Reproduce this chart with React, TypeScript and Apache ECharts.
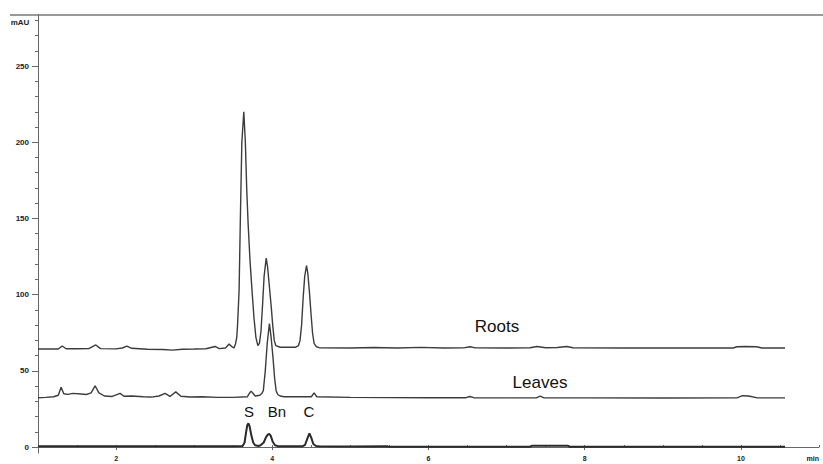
import React, { useEffect, useRef } from "react";
import * as echarts from "echarts";

// Retention time (min) / absorbance (mAU) pairs
const rootsTime = [1.0, 1.26, 1.31, 1.36, 1.5, 1.65, 1.74, 1.8, 2.0, 2.08, 2.137, 2.2, 2.4, 2.6, 2.72, 2.85, 3.0, 3.15, 3.268, 3.32, 3.4, 3.447, 3.49, 3.51, 3.53, 3.545, 3.555, 3.575, 3.59, 3.61, 3.635, 3.655, 3.672, 3.69, 3.715, 3.74, 3.765, 3.79, 3.815, 3.835, 3.855, 3.875, 3.895, 3.922, 3.94, 3.965, 3.988, 4.005, 4.025, 4.045, 4.1, 4.3, 4.335, 4.355, 4.375, 4.395, 4.415, 4.438, 4.455, 4.475, 4.495, 4.515, 4.535, 4.565, 4.6, 5.0, 5.3, 5.6, 5.9, 6.2, 6.45, 6.53, 6.6, 7.0, 7.3, 7.39, 7.5, 7.65, 7.77, 7.85, 8.5, 9.0, 9.5, 9.9, 9.95, 10.05, 10.2, 10.27, 10.565];
const rootsValue = [64.3, 64.3, 66.3, 64.5, 64.5, 64.6, 67, 64.6, 64.4, 65, 66.3, 64.8, 64.2, 64, 63.6, 64.2, 64.3, 64.5, 66, 64.6, 65, 67.6, 65.5, 65, 68, 72, 80, 103, 147, 200, 220, 200, 170, 147, 122, 103, 85, 72, 66.5, 68, 76, 93, 112, 124, 118, 104, 91, 80, 70, 66.5, 65.5, 65.5, 66.5, 70, 80, 98, 112, 119, 114, 102, 88, 75, 68, 65.8, 65.2, 65, 65.3, 65, 65.4, 65, 65.1, 65.8, 65.1, 65, 65.2, 66, 65.2, 65.3, 66, 65.2, 65, 65, 65, 65, 65.8, 66, 65.8, 65, 65];

const leavesTime = [1.0, 1.1, 1.2, 1.26, 1.296, 1.33, 1.38, 1.45, 1.55, 1.62, 1.68, 1.731, 1.78, 1.85, 1.95, 2.051, 2.1, 2.2, 2.35, 2.45, 2.55, 2.627, 2.69, 2.764, 2.83, 2.95, 3.1, 3.3, 3.5, 3.68, 3.71, 3.729, 3.75, 3.78, 3.84, 3.87, 3.885, 3.91, 3.935, 3.963, 3.985, 4.01, 4.03, 4.049, 4.07, 4.1, 4.15, 4.5, 4.535, 4.57, 5.0, 6.0, 6.48, 6.53, 6.58, 7.0, 7.38, 7.43, 7.48, 8.0, 9.0, 9.95, 10.02, 10.1, 10.21, 10.565];
const leavesValue = [32.4, 32.6, 33, 34, 39.2, 35, 34.6, 35.2, 34.8, 34.5, 35.5, 40.2, 35.5, 33.5, 33.2, 35.2, 33.3, 33.5, 33, 32.8, 33.5, 35.2, 33.2, 36.2, 33.3, 32.8, 33, 32.6, 32.6, 33, 35.5, 36.7, 35.5, 33.5, 34, 35.5, 37, 50, 68, 81, 72, 58, 45, 37, 34.5, 33.5, 33, 33, 35.5, 33, 32.6, 32.4, 32.4, 33.2, 32.4, 32.3, 32.3, 33.4, 32.3, 32.3, 32.2, 32.3, 33.7, 33.5, 32.3, 32.3];

const standardTime = [1.0, 2.0, 3.0, 3.5, 3.62, 3.645, 3.665, 3.68, 3.694, 3.71, 3.73, 3.755, 3.78, 3.822, 3.85, 3.89, 3.92, 3.945, 3.963, 3.982, 4.005, 4.035, 4.07, 4.39, 4.42, 4.445, 4.475, 4.5, 4.525, 4.56, 4.6, 5.0, 5.47, 5.49, 7.3, 7.33, 7.78, 7.81, 10.565];
const standardValue = [0.6, 0.6, 0.5, 0.5, 0.7, 3, 10, 14.5, 15.5, 13.5, 8, 3, 1.2, 0.7, 1.2, 3, 6.5, 8.3, 8.6, 7.2, 3.5, 1.2, 0.6, 0.6, 1.5, 5, 9, 6, 2, 0.7, 0.5, 0.4, 0.5, 0.2, 0.2, 0.9, 0.9, 0.2, 0.2];

const xLabelValues = [2, 4, 6, 8, 10, 11];
const xMajorTicks = [2, 4, 6, 8, 10];
const xMinorTicks = [1, 1.5, 2, 2.5, 3, 3.5, 4, 4.5, 5, 5.5, 6, 6.5, 7, 7.5, 8, 8.5, 9, 9.5, 10, 10.5, 11];
const yLabelValues = [0, 50, 100, 150, 200, 250];
const yMinorTicks = [0, 10, 20, 30, 40, 50, 60, 70, 80, 90, 100, 110, 120, 130, 140, 150, 160, 170, 180, 190, 200, 210, 220, 230, 240, 250, 260, 270, 280];

const traceLabels = [
  { text: "Roots", x: 497, y: 326, size: 17 },
  { text: "Leaves", x: 540, y: 382, size: 17 },
  { text: "S", x: 249, y: 411, size: 15 },
  { text: "Bn", x: 277, y: 411, size: 15 },
  { text: "C", x: 309, y: 411, size: 15 },
];

const zip = (xs: number[], ys: number[]) => xs.map((x, i) => [x, ys[i]]);

const FONT = "'Liberation Sans', Arial, sans-serif";
const AXIS = "#666";
const TRACE = "#3c3c3c";

export default function App() {
  const ref = useRef<HTMLDivElement>(null);
  useEffect(() => {
    if (!ref.current) return;
    const chart = echarts.init(ref.current, null, { renderer: "svg" });
    const xMin = 1, xMax = 11, yMin = -3.9, yMax = 283.5;
    chart.setOption({
      animation: false,
      backgroundColor: "#fff",
      grid: { left: 38, right: 4, top: 15, bottom: 11, containLabel: false, outerBoundsMode: "none" },
      xAxis: [
        {
          type: "value", min: xMin, max: xMax,
          axisLine: { show: true, lineStyle: { color: AXIS, width: 1 } },
          axisTick: { show: true, length: 3, lineStyle: { color: AXIS }, customValues: xMajorTicks },
          axisLabel: {
            show: true, customValues: xLabelValues, margin: 2, alignMaxLabel: "right",
            fontSize: 7, lineHeight: 7, fontWeight: "bold", color: "#222", fontFamily: FONT,
            formatter: (v: number) => (v === 11 ? "min" : String(v)),
          },
          splitLine: { show: false },
        },
        {
          type: "value", min: xMin, max: xMax, position: "bottom",
          axisLine: { show: false },
          axisTick: { show: true, inside: true, length: 2, lineStyle: { color: AXIS }, customValues: xMinorTicks },
          axisLabel: { show: false },
          splitLine: { show: false },
        },
      ],
      yAxis: [
        {
          type: "value", min: yMin, max: yMax,
          axisLine: { show: true, lineStyle: { color: AXIS, width: 1 } },
          axisTick: { show: true, length: 6, lineStyle: { color: AXIS }, customValues: yLabelValues },
          axisLabel: {
            show: true, customValues: yLabelValues, margin: 9,
            fontSize: 8, fontWeight: "bold", color: "#222", fontFamily: FONT,
          },
          splitLine: { show: false },
        },
        {
          type: "value", min: yMin, max: yMax, position: "left",
          axisLine: { show: false },
          axisTick: { show: true, length: 3, lineStyle: { color: AXIS }, customValues: yMinorTicks },
          axisLabel: { show: false },
          splitLine: { show: false },
        },
      ],
      series: [
        { name: "Roots", type: "line", data: zip(rootsTime, rootsValue), showSymbol: false, lineStyle: { color: TRACE, width: 1.4 }, silent: true },
        { name: "Leaves", type: "line", data: zip(leavesTime, leavesValue), showSymbol: false, lineStyle: { color: TRACE, width: 1.4 }, silent: true },
        { name: "Standard", type: "line", data: zip(standardTime, standardValue), showSymbol: false, lineStyle: { color: "#2a2a2a", width: 2 }, silent: true },
      ],
      graphic: [
        { type: "line", shape: { x1: 10, y1: 15, x2: 823, y2: 15 }, style: { stroke: "#777", lineWidth: 1.5 } },
        { type: "text", x: 20, y: 22, style: { text: "mAU", font: `bold 8px ${FONT}`, fill: "#222", textAlign: "center", textVerticalAlign: "middle" } },
        ...traceLabels.map((l) => ({
          type: "text", x: l.x, y: l.y,
          style: { text: l.text, font: `${l.size}px ${FONT}`, fill: "#111", textAlign: "center", textVerticalAlign: "middle" },
        })),
      ],
    });
    return () => chart.dispose();
  }, []);
  return <div ref={ref} style={{ width: 823, height: 464, position: "absolute", left: 0, top: 0 }} />;
}
